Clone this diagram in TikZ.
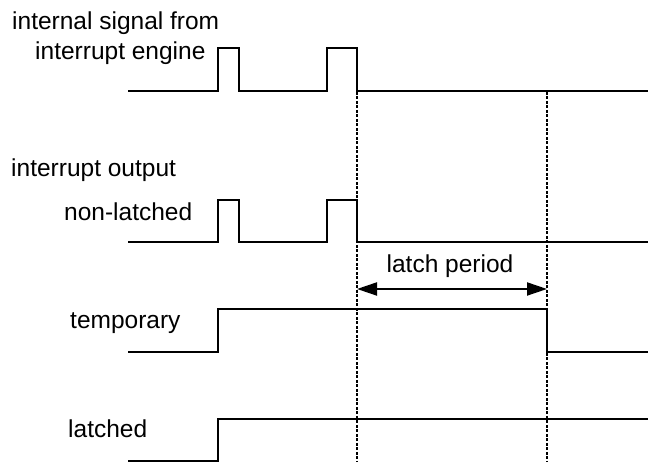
\documentclass[tikz,border=0pt]{standalone}
\usepackage{fontspec}
\setmainfont{Liberation Sans}
\usepackage{tikz}
\usetikzlibrary{arrows.meta}
\tikzstyle{label} = [anchor=base west, inner sep=0pt, font=\fontsize{24.5}{28}\selectfont]
\tikzstyle{signal} = [line width=2pt, line join=miter]
\tikzstyle{marker} = [line width=1.8pt, dash pattern=on 3pt off 1.5pt]
\tikzstyle{latcharrow} = [line width=2pt, {Triangle[length=20pt, width=13pt]}-{Triangle[length=20pt, width=13pt]}]

\begin{document}
\begin{tikzpicture}[x=1pt, y=1pt]
    \useasboundingbox (0,0) rectangle (648,462);

    % Labels
    \node[label] (internal) at (12, 432) {internal signal from};
    \node[label] (engine) at (35, 402) {interrupt engine};
    \node[label] (output) at (11, 285) {interrupt output};
    \node[label] (nonlatched) at (64, 241) {non-latched};
    \node[label] (temporary) at (70, 133) {temporary};
    \node[label] (latched) at (68, 24) {latched};

    % Time markers
    \draw[marker] (357, 370) -- (357, 0);
    \draw[marker] (547, 370) -- (547, 0);

    % Internal signal
    \draw[signal] (128, 371) -- (218, 371) -- (218, 414) -- (239, 414) -- (239, 371)
        -- (327, 371) -- (327, 414) -- (357, 414) -- (357, 371) -- (648, 371);

    % Non-latched output
    \draw[signal] (128, 220) -- (218, 220) -- (218, 262) -- (239, 262) -- (239, 220)
        -- (327, 220) -- (327, 262) -- (357, 262) -- (357, 220) -- (648, 220);

    % Temporary output
    \draw[signal] (128, 110) -- (218, 110) -- (218, 153) -- (547, 153) -- (547, 110) -- (648, 110);

    % Latched output
    \draw[signal] (128, 1) -- (218, 1) -- (218, 43) -- (648, 43);

    % Latch period
    \coordinate (lstart) at (357, 173);
    \coordinate (lend) at (547, 173);
    \draw[latcharrow] (lstart) -- (lend);
    \node[label, anchor=base] (period) at (450, 189) {latch period};
\end{tikzpicture}
\end{document}
